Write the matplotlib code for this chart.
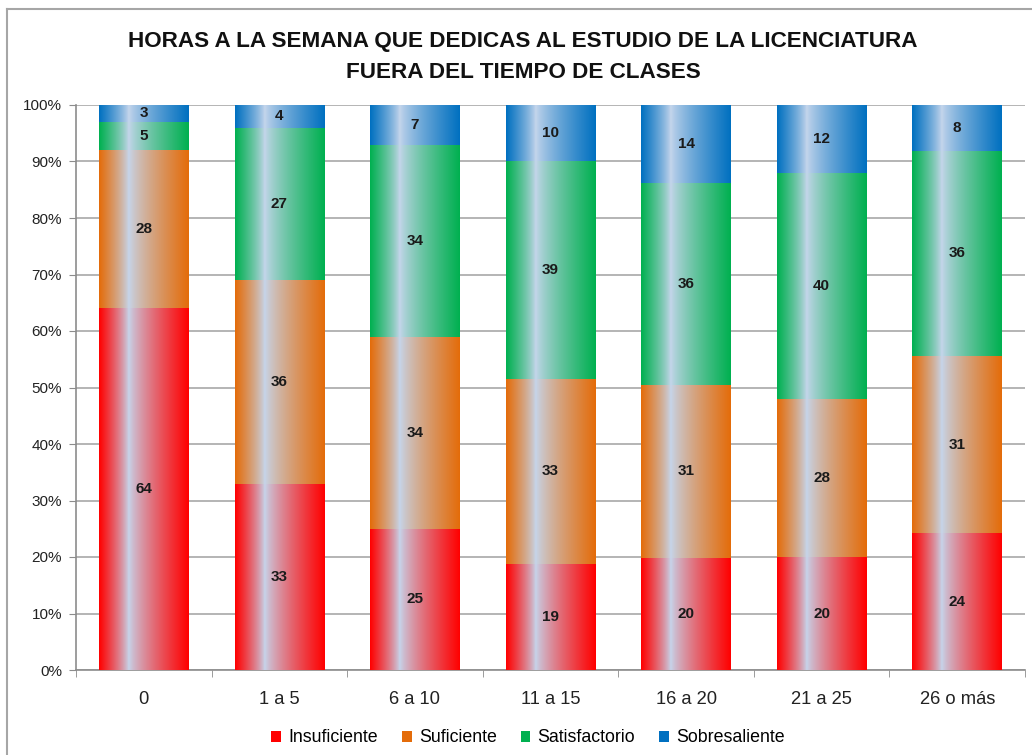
import numpy as np
import matplotlib
matplotlib.use("Agg")
import matplotlib.pyplot as plt
from matplotlib.colors import to_rgb
from matplotlib.lines import Line2D
from matplotlib.patches import Patch

categories = ["0", "1 a 5", "6 a 10", "11 a 15", "16 a 20", "21 a 25", "26 o más"]
insuficiente = [64, 33, 25, 19, 20, 20, 24]
suficiente = [28, 36, 34, 33, 31, 28, 31]
satisfactorio = [5, 27, 34, 39, 36, 40, 36]
sobresaliente = [3, 4, 7, 10, 14, 12, 8]

series_names = ["Insuficiente", "Suficiente", "Satisfactorio", "Sobresaliente"]
series = [insuficiente, suficiente, satisfactorio, sobresaliente]
colors = ["#ff0000", "#e46c0a", "#00b050", "#0070c0"]
light = np.array(to_rgb("#c6d6ec"))

title = "HORAS A LA SEMANA QUE DEDICAS AL ESTUDIO DE LA LICENCIATURA\nFUERA DEL TIEMPO DE CLASES"

plt.rcParams["font.family"] = ["Liberation Sans", "DejaVu Sans"]


def gradient(color, n=200):
    # edge colour -> light band at ~1/3 of the width -> edge colour
    c = np.array(to_rgb(color))
    t = np.linspace(0, 1, n)
    peak = 0.33
    w = np.where(t < peak, 1 - t / peak, (t - peak) / (1 - peak))
    w = w ** 0.8
    img = light[None, :] * (1 - w[:, None]) + c[None, :] * w[:, None]
    return img[None, :, :]


fig = plt.figure(figsize=(10.32, 7.55), dpi=100)
ax = fig.add_axes([76 / 1032, 1 - 670 / 755, (1025 - 76) / 1032, (670 - 105) / 755])

data = np.array(series, dtype=float)
pct = data / data.sum(axis=0) * 100
x = np.arange(len(categories))
bottom = np.zeros(len(categories))

for vals, raw, col in zip(pct, data, colors):
    bars = ax.bar(x, vals, width=0.66, bottom=bottom, color=col, zorder=2)
    img = gradient(col)
    for b, r in zip(bars, raw):
        x0, y0 = b.get_x(), b.get_y()
        ax.imshow(img, extent=[x0, x0 + b.get_width(), y0, y0 + b.get_height()],
                  aspect="auto", zorder=3, interpolation="bilinear")
        ax.text(b.get_x() + b.get_width() / 2, y0 + b.get_height() / 2, f"{int(r)}",
                ha="center", va="center", fontsize=11, fontweight="bold",
                color="#1a1a1a", zorder=4)
    bottom += vals

ax.set_xlim(-0.5, len(categories) - 0.5)
ax.set_ylim(0, 100)
ax.set_yticks(np.arange(0, 101, 10))
ax.set_yticklabels([f"{v}%" for v in range(0, 101, 10)])
ax.set_xticks(x)
ax.set_xticklabels(categories)
ax.set_xticks(np.arange(-0.5, len(categories), 1), minor=True)
ax.tick_params(axis="x", which="major", length=0, pad=15, labelsize=13.2, colors="#222222")
ax.tick_params(axis="x", which="minor", length=5, color="#8c8c8c", direction="out")
ax.tick_params(axis="y", length=5, color="#8c8c8c", labelsize=11, colors="#222222", pad=5)
ax.yaxis.grid(True, color="#a0a0a0", linewidth=1.1, zorder=0)
ax.set_axisbelow(True)
for s in ["top", "right"]:
    ax.spines[s].set_visible(False)
for s in ["left", "bottom"]:
    ax.spines[s].set_color("#8c8c8c")
    ax.spines[s].set_linewidth(1.2)

fig.text(523 / 1032, 1 - 57 / 755, title, ha="center", va="center", fontsize=16.2,
         fontweight="bold", linespacing=1.65, color="#111111")

handles = [Patch(facecolor=c, edgecolor="none") for c in colors]
fig.legend(handles, series_names, loc="center", bbox_to_anchor=(528 / 1032, 1 - 738 / 755),
           ncol=4, frameon=False, fontsize=12.8, handlelength=0.55, handleheight=0.55,
           handletextpad=0.4, columnspacing=1.35)

# outer chart border (top and left visible)
fig.add_artist(Line2D([7 / 1032, 1], [1 - 9 / 755, 1 - 9 / 755], color="#a6a6a6", lw=1.5))
fig.add_artist(Line2D([7 / 1032, 7 / 1032], [0, 1 - 9 / 755], color="#a6a6a6", lw=1.5))

fig.savefig("out.png", dpi=100)
